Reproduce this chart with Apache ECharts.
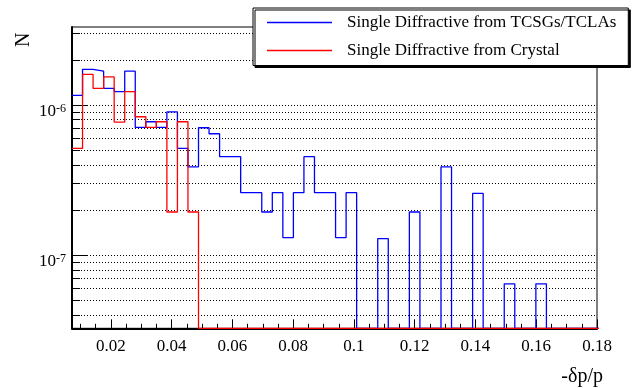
<!DOCTYPE html>
<html><head><meta charset="utf-8">
<script src="https://cdn.jsdelivr.net/npm/echarts@6/dist/echarts.min.js"></script>
<style>html,body{margin:0;padding:0;background:#fff}#c{width:633px;height:388px}</style>
</head><body><div id="c"></div>
<script>
// histogram binning
const binStart = 0.0072;
const binWidth = 0.00347;

// bin contents, N per bin (0 = empty bin)
const tcsgValues = [
  1.16e-6, 1.73e-6, 1.68e-6, 1.29e-6, 1.23e-6, 1.68e-6, 7.1e-7, 7.74e-7, 7.1e-7, 9.0e-7,
  5.14e-7, 3.88e-7, 7.06e-7, 6.44e-7, 4.53e-7, 4.53e-7, 2.61e-7, 2.61e-7, 1.94e-7, 2.61e-7,
  1.31e-7, 2.61e-7, 4.53e-7, 2.61e-7, 2.61e-7, 1.31e-7, 2.61e-7, 0, 0, 1.29e-7,
  0, 0, 1.94e-7, 0, 0, 3.88e-7, 0, 0, 2.58e-7, 0,
  0, 6.45e-8, 0, 0, 6.45e-8, 0, 0, 0, 0, 0
];
const crystalValues = [
  5.14e-7, 1.6e-6, 1.29e-6, 1.54e-6, 7.7e-7, 1.23e-6, 8.36e-7, 7.1e-7, 7.74e-7, 1.94e-7,
  7.74e-7, 1.94e-7, 0, 0, 0, 0, 0, 0, 0, 0,
  0, 0, 0, 0, 0, 0, 0, 0, 0, 0,
  0, 0, 0, 0, 0, 0, 0, 0, 0, 0,
  0, 0, 0, 0, 0, 0, 0, 0, 0, 0
];

const seriesNames = ['Single Diffractive from TCSGs/TCLAs', 'Single Diffractive from Crystal'];

// axes
const xMin = 0.0072, xMax = 0.18;
const yMin = 3.26e-8, yMax = 3.31e-6;
const xTickValues = [0.01,0.015,0.02,0.025,0.03,0.035,0.04,0.045,0.05,0.055,0.06,0.065,0.07,0.075,0.08,0.085,0.09,0.095,0.1,0.105,0.11,0.115,0.12,0.125,0.13,0.135,0.14,0.145,0.15,0.155,0.16,0.165,0.17,0.175];
const xLabelValues = [0.02,0.04,0.06,0.08,0.1,0.12,0.14,0.16,0.18];
const yGridValues = [4e-8,5e-8,6e-8,7e-8,8e-8,9e-8,1e-7,2e-7,3e-7,4e-7,5e-7,6e-7,7e-7,8e-7,9e-7,1e-6,2e-6,3e-6];
const yLabelValues = [1e-7, 1e-6];

function stepPoints(vals) {
  const pts = [];
  vals.forEach((v, k) => {
    const a = binStart + k * binWidth, b = a + binWidth;
    const y = v > 0 ? v : yMin;
    pts.push([a, y], [b, y]);
  });
  return pts;
}

const serif = 'Liberation Serif';
const chart = echarts.init(document.getElementById('c'), null, {renderer: 'canvas'});
chart.setOption({
  animation: false,
  backgroundColor: '#fff',
  grid: {left: 72, right: 36, top: 27, bottom: 59.7, show: true, borderColor: '#000', borderWidth: 1, containLabel: false},
  legend: {
    data: seriesNames, orient: 'vertical', left: 253, top: 8,
    padding: [6, 12, 6.5, 14], itemWidth: 65, itemHeight: 1.3, itemGap: 11, icon: 'rect',
    backgroundColor: '#fff', borderColor: '#000', borderWidth: 1,
    shadowColor: '#000', shadowOffsetX: 2, shadowOffsetY: 2, shadowBlur: 0,
    textStyle: {fontFamily: serif, fontSize: 17, color: '#000', padding: [0, 0, 0, 10]}
  },
  xAxis: [{
    type: 'value', min: xMin, max: xMax, position: 'bottom',
    name: '-δp/p', nameLocation: 'end', nameGap: 6,
    nameTextStyle: {fontFamily: serif, fontSize: 20, color: '#000', align: 'right', verticalAlign: 'top', padding: [38, 0, 0, 0]},
    axisLine: {show: true, onZero: false, lineStyle: {color: '#000', width: 2}},
    axisTick: {show: true, inside: true, length: 4.5, customValues: xTickValues, lineStyle: {color: '#000'}},
    axisLabel: {customValues: xLabelValues, fontFamily: serif, fontSize: 17, color: '#000', margin: 10},
    splitLine: {show: false}
  }, {
    type: 'value', min: xMin, max: xMax, position: 'bottom',
    axisLine: {show: false}, axisLabel: {show: false}, splitLine: {show: false},
    axisTick: {show: true, inside: true, length: 9, customValues: xLabelValues, lineStyle: {color: '#000'}}
  }],
  yAxis: [{
    type: 'log', min: yMin, max: yMax, position: 'left',
    name: 'N', nameLocation: 'end', nameRotate: 90, nameGap: -20,
    nameTextStyle: {fontFamily: serif, fontSize: 20, color: '#000', align: 'left', verticalAlign: 'bottom', padding: [0, 0, 38, 0]},
    axisLine: {show: true, onZero: false, lineStyle: {color: '#000', width: 2}},
    axisTick: {show: true, inside: true, length: 8, customValues: yGridValues, lineStyle: {color: '#000'}},
    axisLabel: {
      customValues: yLabelValues, margin: 6, padding: [12, 0, 0, 0],
      formatter: v => '{b|10}{s|' + Math.round(Math.log10(v)) + '}',
      rich: {
        b: {fontFamily: serif, fontSize: 17, lineHeight: 17, color: '#000'},
        s: {fontFamily: serif, fontSize: 12, lineHeight: 12, color: '#000', verticalAlign: 'top'}
      }
    },
    splitLine: {show: true, lineStyle: {color: '#000', width: 1, type: [1, 2]}}
  }, {
    type: 'log', min: yMin, max: yMax, position: 'left',
    axisLine: {show: false}, axisLabel: {show: false}, splitLine: {show: false},
    axisTick: {show: true, inside: true, length: 15, customValues: yLabelValues, lineStyle: {color: '#000'}}
  }],
  series: [{
    name: seriesNames[0], type: 'line', xAxisIndex: 0, yAxisIndex: 0,
    data: stepPoints(tcsgValues), symbol: 'none', clip: true,
    lineStyle: {color: '#0000ff', width: 1.3}, itemStyle: {color: '#0000ff'}, z: 3
  }, {
    name: seriesNames[1], type: 'line', xAxisIndex: 0, yAxisIndex: 0,
    data: stepPoints(crystalValues), symbol: 'none', clip: true,
    lineStyle: {color: '#ff0000', width: 1.3}, itemStyle: {color: '#ff0000'}, z: 4
  }]
});
</script></body></html>
